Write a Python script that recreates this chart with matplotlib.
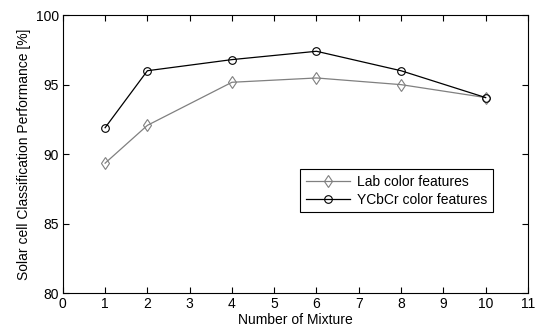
import matplotlib
matplotlib.use("Agg")
import matplotlib.pyplot as plt

# Values
mixtures = [1, 2, 4, 6, 8, 10]
lab_perf = [89.35, 92.07, 95.17, 95.48, 95.0, 94.07]
ycbcr_perf = [91.9, 96.0, 96.8, 97.4, 96.0, 94.07]

x_ticks = list(range(0, 12))
y_ticks = [80, 85, 90, 95, 100]

plt.rcParams['font.family'] = ['Liberation Sans', 'DejaVu Sans']
plt.rcParams['font.size'] = 10

fig = plt.figure(figsize=(5.37, 3.29), dpi=100)
ax = fig.add_axes([0.117, 0.109, 0.866, 0.845])

ax.plot(mixtures, lab_perf, color="#808080", linewidth=0.9, marker="d",
        markersize=6, markerfacecolor="none", markeredgecolor="#808080",
        markeredgewidth=0.8, label="Lab color features")
ax.plot(mixtures, ycbcr_perf, color="black", linewidth=0.9, marker="o",
        markersize=5.5, markerfacecolor="none", markeredgecolor="black",
        markeredgewidth=0.8, label="YCbCr color features")

ax.set_xlim(0, 11)
ax.set_ylim(80, 100)
ax.set_xticks(x_ticks)
ax.set_yticks(y_ticks)
ax.tick_params(direction="in", top=True, right=True, length=4, width=0.8,
               labelsize=10, pad=3)
for s in ax.spines.values():
    s.set_linewidth(0.8)

ax.set_xlabel("Number of Mixture", fontsize=10, labelpad=1)
ax.set_ylabel("Solar cell Classification Performance [%]", fontsize=10, labelpad=3)

leg = ax.legend(loc="upper left", bbox_to_anchor=(0.511, 0.446), borderaxespad=0,
                fancybox=False, edgecolor="black", framealpha=1, fontsize=10,
                handlelength=3.2, borderpad=0.4, labelspacing=0.3,
                handletextpad=0.5)
leg.get_frame().set_linewidth(0.8)

fig.savefig("out.png", dpi=100)
